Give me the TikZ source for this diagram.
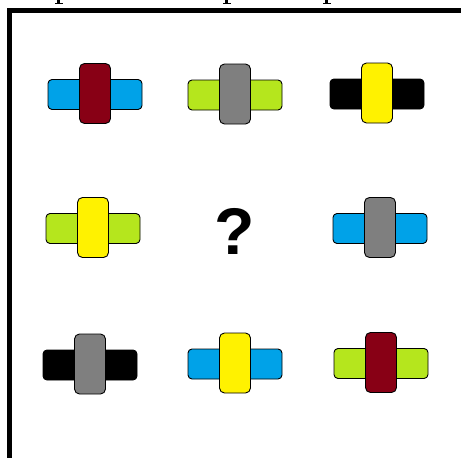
\documentclass[tikz,border=0pt]{standalone}
\usepackage{fontspec}
\newfontfamily\qfont{Liberation Sans}
\definecolor{cblue}{HTML}{00A2E8}
\definecolor{cred}{HTML}{880015}
\definecolor{cgreen}{HTML}{B5E61D}
\definecolor{cgray}{HTML}{7F7F7F}
\definecolor{cyellow}{HTML}{FFF200}
\definecolor{cblack}{HTML}{000000}
\tikzset{
  hbar/.style={draw=black, line width=0.9pt, rounded corners=4pt, minimum width=94pt, minimum height=30pt, inner sep=0pt},
  vbar/.style={draw=black, line width=0.9pt, rounded corners=5pt, minimum width=31pt, minimum height=60pt, inner sep=0pt},
  frame/.style={line width=5pt, line cap=rect},
  frag/.style={fill=black}
}
\newcommand{\crossshape}[5]{%
  \node[hbar, fill=#4] (#1h) at (#2,#3) {};
  \node[vbar, fill=#5] (#1v) at (#2,#3-1) {};
}
\begin{document}
\begin{tikzpicture}[x=1pt,y=-1pt]
\useasboundingbox (0,0) rectangle (461,458);
\fill[white] (0,0) rectangle (461,458);
% frame
\draw[frame] (9.5,470) -- (9.5,10) -- (470,10);
% cut-off text fragments at top
\fill[frag] (57,0) rectangle (60,3.5);
\fill[frag] (54.5,2.5) rectangle (63,4);
\fill[frag] (225,0) rectangle (228,3.5);
\fill[frag] (222.5,2.5) rectangle (231,4);
\fill[frag] (325,0) rectangle (328,3.5);
\fill[frag] (322.5,2.5) rectangle (331,4);
% row 1
\crossshape{a}{95}{94.5}{cblue}{cred}
\crossshape{b}{235}{95}{cgreen}{cgray}
\crossshape{c}{377}{94}{cblack}{cyellow}
% row 2
\crossshape{d}{93}{228.5}{cgreen}{cyellow}
\node[font=\qfont\bfseries\fontsize{66}{66}\selectfont, inner sep=0pt] (q) at (235,231) {?};
\crossshape{f}{380}{228.5}{cblue}{cgray}
% row 3
\crossshape{g}{90}{365}{cblack}{cgray}
\crossshape{h}{235}{364}{cblue}{cyellow}
\crossshape{i}{381}{363.5}{cgreen}{cred}
\end{tikzpicture}
\end{document}
